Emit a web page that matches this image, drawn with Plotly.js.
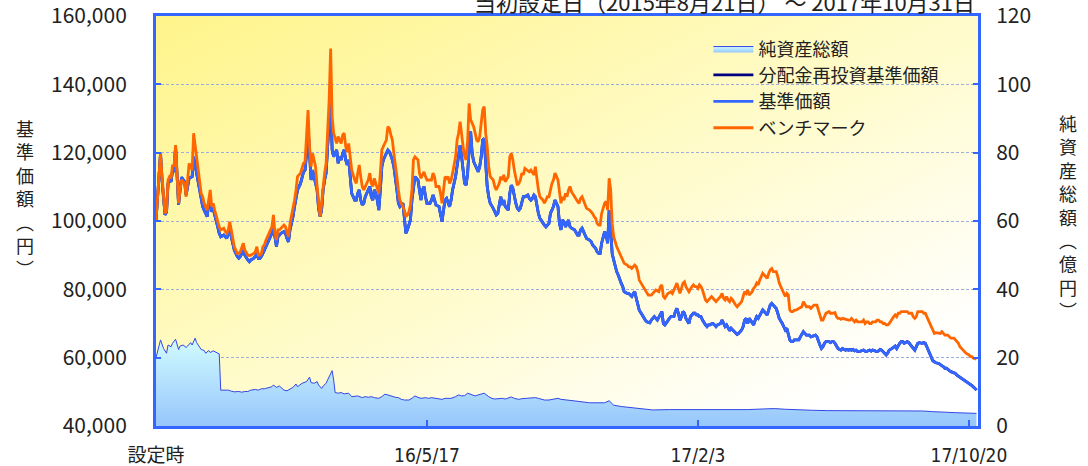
<!DOCTYPE html>
<html><head><meta charset="utf-8">
<script src="https://cdn.plot.ly/plotly-3.0.1.min.js"></script>
<style>
html,body{margin:0;padding:0;background:#fff;}
#wrap{position:relative;width:1088px;height:466px;overflow:hidden;}
#bg{position:absolute;left:156px;top:16px;width:822px;height:410px;background:linear-gradient(to bottom right,#fff48a 0%,#fffbc8 48%,#ffffff 88%);}
#chart{position:absolute;left:0;top:0;width:1088px;height:466px;}
</style></head><body>
<div id="wrap"><div id="bg"></div><div id="chart"></div></div>
<script>
// trading-day index of each tick and its label
const tickDays = [0, 180, 360, 540];
const tickLabels = ['設定時', '16/5/17', '17/2/3', '17/10/20'];

// ベンチマーク (円)
const benchDays = [0,3,4,6,7,8,9,10,11,12,13,14,15,16,17,19,20,22,24,25,27,28,29,30,31,32,34,35,36,37,38,39,40,41,42,43,45,46,47,48,49,50,51,52,54,55,56,57,58,59,60,61,62,63,65,66,67,68,69,70,71,72,73,75,76,77,78,79,80,81,82,83,85,86,87,88,89,90,91,92,93,94,96,97,98,99,100,101,102,103,104,106,107,108,109,110,111,112,113,114,115,116,117,118,120,121,122,123,124,125,126,127,128,129,130,132,133,134,135,136,137,138,139,141,142,143,144,145,146,147,148,149,150,151,153,154,155,156,157,158,159,160,161,162,164,165,166,167,168,169,170,171,172,174,175,176,177,178,179,180,182,
183,184,185,186,188,189,190,191,192,193,194,195,196,197,199,200,201,202,203,204,205,206,207,208,209,210,211,212,213,214,215,216,217,218,219,220,221,222,224,225,226,227,228,229,230,231,232,234,235,236,237,238,239,240,241,242,243,244,245,247,248,249,250,251,252,253,254,255,257,258,259,260,261,262,263,264,265,267,268,269,270,271,272,273,274,275,276,278,279,280,281,282,283,284,285,286,288,289,290,291,292,293,294,295,296,298,299,300,301,302,303,304,305,306,307,308,309,310,311,313,314,315,316,317,318,319,320,321,323,324,
326,327,329,331,332,334,335,336,337,338,339,340,342,343,345,346,347,348,349,350,351,352,354,355,356,357,358,359,360,361,362,363,365,366,367,368,369,370,371,372,373,375,376,377,378,379,380,381,382,383,385,386,387,388,389,390,391,392,393,394,396,397,398,399,400,401,402,403,404,406,407,408,409,410,411,412,413,414,416,417,418,419,420,421,422,423,424,425,427,428,429,430,431,432,433,434,435,437,438,439,440,441,442,443,444,445,447,448,449,450,451,452,453,454,455,456,458,459,460,461,462,463,464,465,466,468,469,470,471,472,473,474,475,476,478,479,480,481,482,483,484,485,486,487,489,490,491,492,493,494,495,496,497,499,500,501,502,503,504,505,506,507,509,510,511,512,513,514,515,516,517,518,520,521,522,523,524,525,526,527,528,530,531,532,533,534,535,536,537,538,540,541,542,543,544,545];
const benchValues = [100000,119800,113000,102200,103200,112000,113000,112500,116400,115900,122200,114000,105200,109100,112000,111000,107100,116900,114900,125700,118800,114000,111000,108100,107100,105200,103200,107100,109100,104200,105200,103200,101300,99300,98300,97400,97900,96900,96400,97400,99800,97400,94400,92500,90500,90500,91000,92500,93500,91500,90500,90000,89900,90000,90500,91000,92500,90000,90000,90500,92500,93000,94400,96400,97400,98300,101800,96400,94400,97400,97400,97900,98800,98300,96400,95400,99300,101300,103200,106100,109100,113000,114000,115900,116900,117400,123700,132500,121800,115900,119800,115900,110100,105200,101300,105200,111000,114000,116900,126600,135400,150500,130500,125700,122700,124700,123700,122700,125200,125700,121800,120300,122700,118800,114900,112000,111000,114000,116400,113000,110100,109100,110100,112000,114000,111000,110100,112500,111000,109100,108100,114000,120800,121800,123700,127600,127100,125200,123700,119800,116900,113000,109100,106100,104200,103200,101300,101800,102700,104700,109100,117900,118800,117900,114000,112500,113500,114400,113000,112000,112000,
112000,114000,113000,110100,110100,108100,105200,109100,113000,112500,113000,111000,112000,114000,118800,123700,125700,129100,124700,121800,118800,117900,123700,134400,129600,128600,127600,125700,123700,123200,124700,128600,132500,133500,125700,121800,115900,113000,112000,110100,109100,110100,111000,113000,112000,113500,111500,113000,118800,119800,117900,114900,112000,110500,111000,112000,114000,113500,115400,114900,114400,114900,114000,113500,115900,112000,109100,107100,106100,105200,106100,107100,107100,109100,111000,112000,114000,112000,109100,105200,107100,106100,108100,107100,109100,110100,108600,107100,106100,105700,105200,106600,107100,106100,104700,103700,103200,102700,102200,101300,100800,99300,98800,98800,102200,105200,105700,103200,112500,109100,99300,95400,93500,92500,91500,90500,89600,88600,87600,87100,86600,86600,86100,86600,87100,86600,85200,82700,81300,80300,
78800,78300,78300,79300,79800,79300,80800,81300,77900,77400,78300,78800,79300,78800,80800,81800,80300,78800,80300,81800,82200,80800,79300,80300,80800,81300,80800,80800,80300,81300,80800,79800,76900,76400,76900,77400,77900,77400,76900,76400,76900,77900,78800,77400,76900,77900,76900,76400,77400,76900,75400,74900,75400,75900,76400,77900,79300,78800,79800,78300,79300,80300,80800,81800,81300,82700,83700,84700,84200,83200,84700,85700,86100,85200,85200,85200,83700,81800,79800,78800,77900,78800,78300,73900,73500,73500,73900,73900,74400,74900,74900,76400,75400,74900,74900,74900,74400,75400,75400,75400,73900,72000,71000,71000,72000,73000,73500,73000,73000,73000,73200,72000,71500,71500,71200,71500,71200,71000,71000,71000,71500,71000,70500,71000,70500,70500,70500,71000,70000,70500,70500,70000,70000,70500,70500,71000,71000,70500,70500,70000,70000,69600,69600,70000,71500,72000,72500,72000,73000,73000,73500,73500,73500,73500,73000,73000,73000,72000,71500,72000,73500,73500,73500,73000,73000,72000,71000,70000,69100,67600,67100,67300,67100,67100,67600,67100,66600,66600,66600,66100,65700,65700,65200,64700,64200,63200,62700,62200,61800,61300,60800,60300,60300,59800,59800,59500];

// 基準価額 (円)
const navDays = [0,3,4,6,7,8,9,10,11,12,13,14,15,16,17,19,20,22,24,25,27,28,29,30,31,32,34,35,36,37,38,39,40,41,42,43,45,46,47,48,49,50,51,52,54,55,56,57,58,59,60,61,62,63,65,66,67,68,69,70,71,72,73,75,76,77,78,79,80,81,82,83,85,86,87,88,89,90,91,92,93,94,96,97,98,99,100,101,102,103,104,106,107,108,109,110,111,112,113,114,115,116,117,118,120,121,122,123,124,125,126,127,128,129,130,132,133,134,135,136,137,138,139,141,142,143,144,145,146,147,148,149,150,151,153,154,155,156,157,158,159,160,161,162,164,165,166,167,168,169,170,171,172,174,175,176,177,178,179,180,182,
183,184,185,186,188,189,190,191,192,193,194,195,196,197,199,200,201,202,203,204,205,206,207,208,209,210,211,212,213,214,215,216,217,218,219,220,221,222,224,225,226,227,228,229,230,231,232,234,235,236,237,238,239,240,241,242,243,244,245,247,248,249,250,251,252,253,254,255,257,258,259,260,261,262,263,264,265,267,268,269,270,271,272,273,274,275,276,278,279,280,281,282,283,284,285,286,288,289,290,291,292,293,294,295,296,298,299,300,301,302,303,304,305,306,307,308,309,310,
311,313,314,315,316,317,318,319,320,321,323,324,325,326,327,328,329,330,331,333,334,335,336,337,338,339,340,341,342,344,345,346,347,348,349,350,351,352,354,355,356,357,358,359,360,361,362,363,365,366,367,368,369,370,371,372,373,375,376,377,378,379,380,381,382,383,385,386,387,388,389,390,391,392,393,394,396,397,398,399,400,401,402,403,404,406,407,408,409,410,411,412,413,414,416,417,418,419,420,421,422,423,424,425,427,428,429,430,431,432,433,434,435,437,438,439,440,441,442,443,444,445,447,448,449,450,451,452,453,454,455,456,458,459,460,461,462,463,464,465,466,468,469,470,471,472,473,474,475,476,478,479,480,481,482,483,484,485,486,487,489,490,491,492,493,494,495,496,497,499,500,501,502,503,504,505,506,507,509,510,511,512,513,514,515,516,517,518,520,521,522,523,524,525,526,527,528,530,531,532,534,536,538,540,542,544,545];
const navValues = [100000,119800,112000,101800,102700,111000,112000,111500,114900,114400,121800,113000,104700,109100,112800,111500,107600,112500,113000,118800,114000,112000,109600,107100,104200,103200,101300,105200,106100,102700,103700,101800,100300,98300,96400,95400,95900,95400,94900,96400,97400,95400,93000,91500,89600,89100,89600,90500,91500,90000,89100,88600,88100,88600,89100,89600,90500,89100,89100,89600,90500,91500,92500,94400,95400,96400,98300,95400,92500,95400,95900,96400,96900,96400,94900,93900,97400,99300,101300,104200,107100,109100,111000,113000,114400,114900,119800,127600,117900,112000,114900,111000,109100,103700,101300,103200,109100,112000,114000,121800,129600,136000,120800,118800,120800,116900,118800,117900,119800,120800,117900,116400,117900,113000,108100,106100,106100,108100,109100,106100,104700,105200,107100,109100,110100,107100,106100,109100,108100,106100,103200,109100,115900,117900,119800,120800,120300,119300,117900,115900,113000,109100,105200,104200,105200,100300,96400,97400,99300,100300,106100,110100,113000,112000,108100,106100,109100,110100,107100,105200,105200,
106100,107600,106100,104700,104200,102200,99800,103200,106100,106600,105200,104200,106100,109100,113000,115900,118800,122200,118800,114900,111000,110500,114000,121000,126200,119800,117400,116400,115400,114400,115900,118800,123700,124200,116900,110100,107100,105200,103700,102700,101800,102200,104200,107100,104700,106100,104200,103200,108100,110500,109600,107100,105200,103700,103200,103700,105700,107100,107100,107600,106600,106100,106600,107600,107100,104200,102200,100800,99300,98800,98300,98800,99300,102200,103200,104200,106100,104200,99300,97400,100300,99800,98300,99300,100300,98300,97900,97400,96400,95900,95900,97400,97900,96900,95900,94900,94400,94000,93000,92500,92000,91000,90500,90500,93500,96900,95900,93500,103200,97400,90500,88600,86600,85200,84200,82700,81800,80800,
79300,78800,78800,78300,77900,78800,79300,77400,75400,73900,72500,71500,71000,70500,70300,70200,71000,71500,72000,71000,72000,73000,73500,70000,69600,70200,71000,71500,72000,72000,73500,74400,73000,71000,72000,73500,73000,71500,70000,72000,72500,73000,73000,72500,72500,72000,72000,71000,69600,69100,69600,69600,69900,70000,69600,69100,69600,70000,71000,70000,69100,69600,68600,67900,68600,68100,67100,66800,67100,67600,68100,69100,71000,71500,70000,71500,70000,69600,71000,72000,71500,72500,73500,74000,73500,72500,74000,75400,75900,75400,74900,74400,73000,71500,70000,69100,68100,68600,67100,65200,64700,64700,65200,65200,65200,66100,67100,67600,67100,66600,66600,66600,66100,66300,66600,66100,64700,63700,62700,63200,64200,64700,64700,64400,64700,64700,64200,63200,62700,62400,62200,62700,62200,62400,62200,62400,62200,62400,62000,62200,61800,61900,62000,62200,61900,61800,62000,62200,61900,62200,61900,61800,62000,62400,62200,61800,61300,60800,61300,62200,62700,63200,63400,62700,63700,64200,64700,64700,64200,64700,64400,63700,63200,62700,62200,63200,64200,64400,64200,64400,64200,63200,62200,60800,59800,59100,58800,58500,58300,57900,57600,57400,56900,56900,56400,56200,55900,55600,55400,54900,54300,53500,53000,52500,51800,51000,50500];

// 分配金再投資基準価額 (円) — no distributions, same as 基準価額
const reinvestValues = navValues.slice();

// 純資産総額 (億円)
const assetDays = [0,3,5,7,8,10,11,13,15,16,18,20,21,23,24,26,27,29,30,32,33,35,36,38,40,42,43,46,48,50,52,55,57,59,61,63,66,68,70,72,75,77,78,80,82,85,87,89,91,93,94,97,99,100,102,103,105,107,108,110,111,113,114,115,117,118,119,121,123,125,128,130,132,134,137,139,141,143,145,148,150,152,154,157,159,161,163,165,168,170,172,174,176,179,181,183,185,187,190,192,194,196,199,201,203,205,207,210,212,214,216,218,221,223,225,227,230,232,234,236,238,241,243,245,247,249,252,254,256,258,261,263,265,267,269,272,274,277,288,298,301,304,309,316,323,330,341,351,362,372,383,393,404,411,418,425,436,446,457,467,478,488,499,509,516,523,531,538,543,545];
const assetValues = [20.0,25.2,22.7,21.3,23.7,23.2,24.2,25.4,22.4,23.4,23.7,23.0,23.4,24.4,23.7,25.7,24.4,23.2,22.4,22.1,21.3,22.1,21.5,22.0,21.5,21.1,10.5,10.5,10.5,10.2,10.0,10.1,9.9,10.1,10.1,10.5,10.7,10.5,10.9,10.9,11.3,11.5,12.0,11.3,11.7,10.5,10.3,10.7,11.3,12.3,11.5,12.5,13.0,13.0,14.3,12.7,12.5,13.0,12.0,11.0,11.7,12.5,13.5,14.4,16.2,13.5,9.8,9.6,9.8,9.4,9.6,8.6,8.6,8.8,8.3,8.6,8.4,8.6,8.3,8.1,8.6,9.3,9.1,8.6,8.4,8.3,7.8,7.6,7.6,8.1,8.8,8.4,8.1,8.3,8.1,8.3,8.1,7.9,7.8,8.1,8.1,8.1,8.6,9.1,8.8,8.9,9.6,9.1,8.8,9.1,9.3,9.6,8.6,8.1,7.9,8.0,8.1,7.9,8.1,8.5,8.1,7.8,8.0,8.1,8.2,8.2,8.3,8.1,7.8,7.6,7.6,7.8,8.0,8.1,7.8,7.6,7.6,7.4,6.8,6.8,7.4,6.1,5.7,5.4,4.9,4.7,4.8,4.8,4.7,4.7,4.7,4.8,5.0,5.1,4.9,4.7,4.6,4.5,4.5,4.4,4.4,4.5,4.4,4.4,4.2,4.0,3.9,3.8,3.7,3.7];

const BLUE = '#3366ff';
const FONT = "'Noto Sans CJK JP', 'Noto Sans', sans-serif";

const traces = [
  {x: assetDays, y: assetValues, yaxis: 'y2', type: 'scatter', mode: 'lines', name: '純資産総額',
   line: {color: '#3347e6', width: 1}, fill: 'tozeroy',
   fillgradient: {type: 'vertical', colorscale: [[0, '#96c6fb'], [1, '#d2fbff']]}},
  {x: navDays, y: reinvestValues, type: 'scatter', mode: 'lines', name: '分配金再投資基準価額',
   line: {color: '#000080', width: 2.8}},
  {x: navDays, y: navValues, type: 'scatter', mode: 'lines', name: '基準価額',
   line: {color: BLUE, width: 2.8}},
  {x: benchDays, y: benchValues, type: 'scatter', mode: 'lines', name: 'ベンチマーク',
   line: {color: '#ff6600', width: 2.8}}
];

const layout = {
  width: 1088, height: 466,
  margin: {l: 156, r: 110, t: 16, b: 40, pad: 0},
  paper_bgcolor: 'rgba(0,0,0,0)', plot_bgcolor: 'rgba(0,0,0,0)',
  font: {family: FONT, size: 19, color: '#222'},
  showlegend: true,
  legend: {x: 0.672, y: 0.965, xanchor: 'left', yanchor: 'top', bgcolor: 'rgba(0,0,0,0)',
           font: {family: FONT, size: 18, color: '#222'}, itemwidth: 40, tracegroupgap: 0},
  xaxis: {range: [0, 546], tickmode: 'array', tickvals: tickDays, ticktext: tickLabels,
          ticks: 'inside', ticklen: 6, tickwidth: 2, tickcolor: BLUE,
          showline: true, linecolor: BLUE, linewidth: 3, mirror: true,
          showgrid: false, zeroline: false, ticklabelstandoff: 10, ticklabeloverflow: 'allow',
          tickfont: {family: "'Liberation Sans Narrow', 'DejaVu Sans Condensed', 'Noto Sans CJK JP', sans-serif", size: 19, color: '#222'}},
  yaxis: {range: [40000, 160000], dtick: 20000, tickformat: ',d',
          ticks: 'inside', ticklen: 5, tickwidth: 2, tickcolor: BLUE,
          showline: true, linecolor: BLUE, linewidth: 3,
          showgrid: true, gridcolor: '#9cadde', gridwidth: 1, griddash: '3px,2px',
          zeroline: false, ticklabelstandoff: 22, ticklabeloverflow: 'allow',
          tickfont: {family: FONT, size: 21, color: '#222'}},
  yaxis2: {range: [0, 120], dtick: 20, overlaying: 'y', side: 'right',
           ticks: 'inside', ticklen: 5, tickwidth: 2, tickcolor: BLUE,
           showline: true, linecolor: BLUE, linewidth: 3,
           showgrid: false, zeroline: false, ticklabelstandoff: 11, ticklabeloverflow: 'allow',
           tickfont: {family: FONT, size: 21, color: '#222'}},
  annotations: [
    {text: '当初設定日（2015年8月21日） ～ 2017年10月31日', xref: 'paper', yref: 'paper',
     x: 0.691, y: 1.037, xanchor: 'center', yanchor: 'middle', showarrow: false,
     font: {family: FONT, size: 22, color: '#222'}},
    {text: '基<br>準<br>価<br>額<br>︵<br>円<br>︶', xref: 'paper', yref: 'paper',
     x: -0.159, y: 0.556, xanchor: 'center', yanchor: 'middle', showarrow: false,
     font: {family: FONT, size: 18, color: '#222'}},
    {text: '純<br>資<br>産<br>総<br>額<br>︵<br>億<br>円<br>︶', xref: 'paper', yref: 'paper',
     x: 1.1095, y: 0.512, xanchor: 'center', yanchor: 'middle', showarrow: false,
     font: {family: FONT, size: 18, color: '#222'}}
  ]
};

Plotly.newPlot('chart', traces, layout, {displayModeBar: false, staticPlot: true});
</script></body></html>
